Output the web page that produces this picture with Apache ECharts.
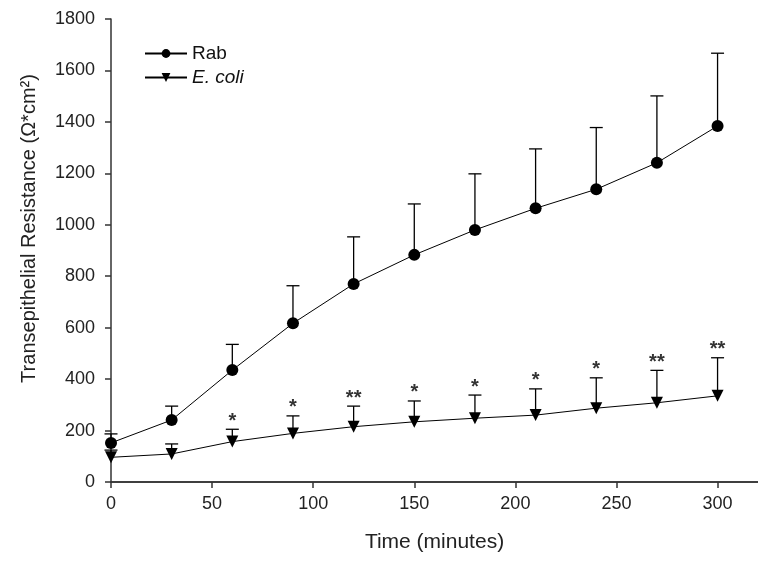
<!DOCTYPE html>
<html><head><meta charset="utf-8">
<script src="https://cdn.jsdelivr.net/npm/echarts@6/dist/echarts.min.js"></script>
<style>html,body{margin:0;padding:0;background:#fff}#c{width:758px;height:564px}</style>
</head><body><div id="c"></div>
<script>
const times = [0, 30, 60, 90, 120, 150, 180, 210, 240, 270, 300];
const rabMean = [152, 241, 435, 617, 770, 883, 980, 1064, 1138, 1241, 1384];
const rabUpper = [187, 295, 535, 763, 953, 1081, 1198, 1295, 1378, 1501, 1667];
const ecoliMean = [96, 109, 157, 189, 215, 234, 248, 260, 287, 308, 335];
const ecoliUpper = [124, 148, 205, 257, 295, 315, 338, 362, 405, 434, 483];
const ecoliStars = ['', '', '*', '*', '**', '*', '*', '*', '*', '**', '**'];
const xTicks = [0, 50, 100, 150, 200, 250, 300];
const yTicks = [0, 200, 400, 600, 800, 1000, 1200, 1400, 1600, 1800];

const FONT = '"Liberation Sans", Arial, sans-serif';
const chart = echarts.init(document.getElementById('c'), null, {renderer: 'canvas'});

function errSeries(name, mean, upper, stars) {
  return {
    type: 'custom', name: name + ' err', silent: true, z: 1,
    data: times.map((t, i) => [t, mean[i], upper[i]]),
    encode: {x: 0, y: [1, 2]},
    renderItem: (params, api) => {
      const p0 = api.coord([api.value(0), api.value(1)]);
      const p1 = api.coord([api.value(0), api.value(2)]);
      const hw = 6.5;
      const children = [
        {type: 'line', shape: {x1: p0[0], y1: p0[1], x2: p1[0], y2: p1[1]}, style: {stroke: '#000', lineWidth: 1.3}},
        {type: 'line', shape: {x1: p1[0] - hw, y1: p1[1], x2: p1[0] + hw, y2: p1[1]}, style: {stroke: '#000', lineWidth: 1.3}}
      ];
      const s = stars ? stars[params.dataIndex] : '';
      if (s) children.push({type: 'text', x: p1[0], y: p1[1] - 8,
        style: {text: s, fill: '#333', font: 'bold 20px ' + FONT, align: 'center', verticalAlign: 'middle'}});
      return {type: 'group', children};
    }
  };
}

const axisLineStyle = {color: '#333', width: 1.5};

chart.setOption({
  animation: false,
  backgroundColor: '#fff',
  grid: {left: 111, right: -2, top: 19, bottom: 82, containLabel: false},
  legend: {
    data: ['Rab', 'E. coli'], orient: 'vertical', left: 139, top: 39,
    itemWidth: 42, itemHeight: 11, itemGap: 5,
    textStyle: {fontFamily: FONT, fontSize: 19, color: '#111',
      rich: {i: {fontStyle: 'italic', fontFamily: FONT, fontSize: 19, color: '#111'}}},
    formatter: n => n === 'E. coli' ? '{i|E. coli}' : n
  },
  xAxis: [{
    type: 'value', min: 0, max: 320, interval: 50,
    axisLine: {show: true, onZero: false, lineStyle: axisLineStyle},
    axisTick: {show: true, length: 6, customValues: xTicks, lineStyle: axisLineStyle},
    axisLabel: {customValues: xTicks, fontSize: 18, margin: 13, color: '#222', fontFamily: FONT,
      formatter: v => String(v)},
    splitLine: {show: false},
    name: 'Time (minutes)', nameLocation: 'middle', nameGap: 50,
    nameTextStyle: {fontSize: 21, color: '#222', fontFamily: FONT}
  }, {
    type: 'value', position: 'top', min: 0, max: 320,
    axisLine: {show: true, lineStyle: axisLineStyle},
    axisTick: {show: false}, axisLabel: {show: false}, splitLine: {show: false}
  }],
  yAxis: {
    type: 'value', min: 0, max: 1800, interval: 200,
    axisLine: {show: true, lineStyle: axisLineStyle},
    axisTick: {show: true, length: 6, customValues: yTicks, lineStyle: axisLineStyle},
    axisLabel: {customValues: yTicks, fontSize: 18, margin: 16, color: '#222', fontFamily: FONT,
      formatter: v => String(v)},
    splitLine: {show: false},
    name: 'Transepithelial Resistance (Ω*cm²)', nameLocation: 'middle', nameGap: 72,
    nameTextStyle: {fontSize: 20, color: '#222', fontFamily: FONT, padding: [0, 0, 0, 44]}
  },
  series: [
    errSeries('Rab', rabMean, rabUpper, null),
    errSeries('E. coli', ecoliMean, ecoliUpper, ecoliStars),
    {type: 'line', name: 'Rab', data: times.map((t, i) => [t, rabMean[i]]),
      symbol: 'circle', symbolSize: 12, lineStyle: {color: '#000', width: 1},
      itemStyle: {color: '#000'}, z: 3},
    {type: 'line', name: 'E. coli', data: times.map((t, i) => [t, ecoliMean[i]]),
      symbol: 'triangle', symbolRotate: 180, symbolSize: 12, lineStyle: {color: '#000', width: 1},
      itemStyle: {color: '#000'}, z: 3}
  ]
});
</script></body></html>
